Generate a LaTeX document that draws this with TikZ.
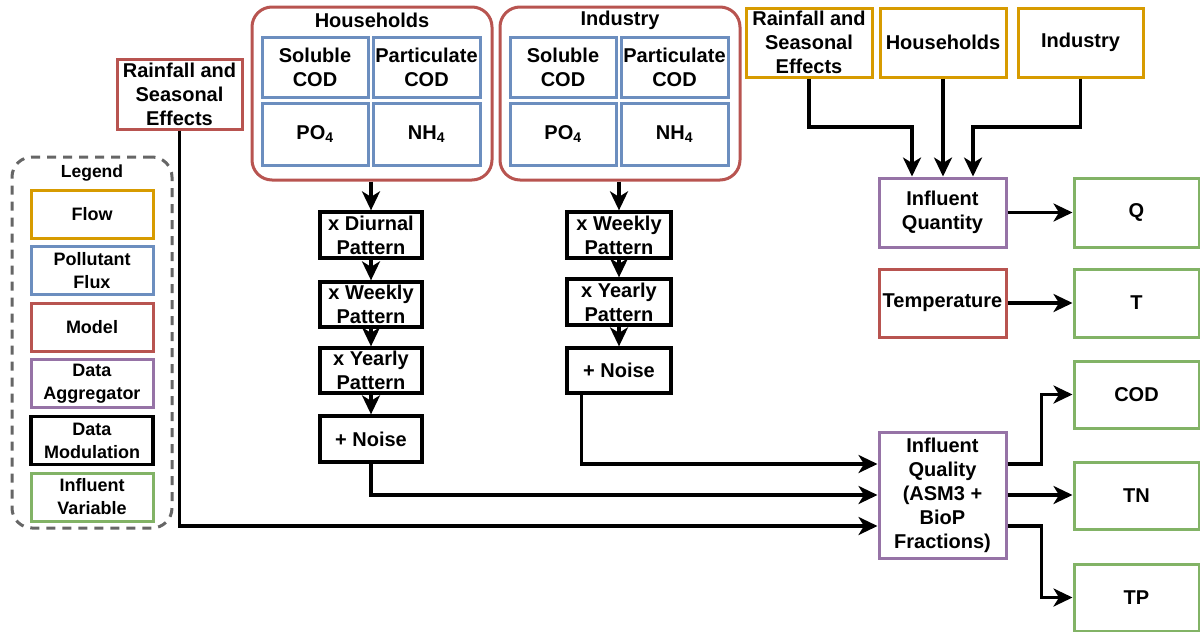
\documentclass[tikz,border=0pt]{standalone}
\usepackage{fontspec}
\setmainfont{Liberation Sans}
\usetikzlibrary{arrows.meta,calc}
\definecolor{cflow}{HTML}{D79B00}
\definecolor{cflux}{HTML}{6C8EBF}
\definecolor{cmodel}{HTML}{B85450}
\definecolor{cagg}{HTML}{9673A6}
\definecolor{cvar}{HTML}{82B366}
\definecolor{clegend}{HTML}{666666}
\begin{document}
\begin{tikzpicture}[x=1pt,y=-1pt,
  txt/.style={font=\fontsize{20}{24}\selectfont\bfseries, align=center, inner sep=0pt},
  box/.style={txt, draw=#1, line width=3pt, fill=white, rectangle},
  flowbox/.style={box=cflow},
  fluxbox/.style={box=cflux, minimum width=106, minimum height=60},
  modelbox/.style={box=cmodel},
  aggbox/.style={box=cagg},
  modbox/.style={box=black, line width=3.3pt},
  varbox/.style={box=cvar, minimum width=125},
  legbox/.style={minimum width=122, minimum height=48},
  legtext/.style={font=\fontsize{18}{23}\selectfont\bfseries},
  arr/.style={line width=3.2pt, -{Stealth[length=19pt,width=18pt,inset=5.5pt]}}
]
\useasboundingbox (0,0) rectangle (1200,632);

% ---- household and industry models with their pollutant fluxes ----
\node[modelbox, rounded corners=20pt, minimum width=240, minimum height=173] (hh) at (372,93.5) {};
\node[txt] (hhtitle) at (372,20) {Households};
\node[fluxbox] (hsc) at (315,67) {Soluble\\COD};
\node[fluxbox, minimum width=107] (hpc) at (426.5,67) {Particulate\\COD};
\node[fluxbox, minimum height=62] (hpo) at (315,134) {PO\textsubscript{4}};
\node[fluxbox, minimum width=107, minimum height=62] (hnh) at (426.5,134) {NH\textsubscript{4}};

\node[modelbox, rounded corners=20pt, minimum width=240, minimum height=173] (ind) at (620,93.5) {};
\node[txt] (indtitle) at (620,20) {Industry};
\node[fluxbox] (isc) at (563,67) {Soluble\\COD};
\node[fluxbox, minimum width=107] (ipc) at (674.5,67) {Particulate\\COD};
\node[fluxbox, minimum height=62] (ipo) at (563,134) {PO\textsubscript{4}};
\node[fluxbox, minimum width=107, minimum height=62] (inh) at (674.5,134) {NH\textsubscript{4}};

% ---- modulation chains ----
\node[modbox, minimum width=102, minimum height=46] (hdiu) at (371,235) {x Diurnal\\Pattern};
\node[modbox, minimum width=102, minimum height=45] (hweek) at (371,304.5) {x Weekly\\Pattern};
\node[modbox, minimum width=102, minimum height=45] (hyear) at (371,370.5) {x Yearly\\Pattern};
\node[modbox, minimum width=102, minimum height=46] (hnoise) at (371,439) {+ Noise};

\node[modbox, minimum width=104, minimum height=46] (iweek) at (619,235) {x Weekly\\Pattern};
\node[modbox, minimum width=104, minimum height=46] (iyear) at (619,302) {x Yearly\\Pattern};
\node[modbox, minimum width=104, minimum height=45] (inoise) at (619,370.5) {+ Noise};

% ---- rainfall model (left) ----
\node[modelbox, minimum width=125, minimum height=70] (rainL) at (179.5,94) {Rainfall and\\Seasonal\\Effects};

% ---- legend ----
\node[draw=clegend, dash pattern=on 9pt off 7pt, line width=3pt, rounded corners=20pt,
      minimum width=160, minimum height=371] (legend) at (92,342.5) {};
\node[txt, font=\fontsize{17.5}{21}\selectfont\bfseries] (legtitle) at (92,173) {Legend};
\node[flowbox, legbox, legtext] (lflow) at (92,214) {Flow};
\node[box=cflux, legbox, legtext] (lflux) at (92,270.5) {Pollutant\\Flux};
\node[modelbox, legbox, legtext] (lmodel) at (92,327.5) {Model};
\node[aggbox, legbox, legtext] (lagg) at (92,383.5) {Data\\Aggregator};
\node[modbox, legbox, legtext] (lmod) at (92,440.5) {Data\\Modulation};
\node[box=cvar, legbox, legtext] (lvar) at (92,497) {Influent\\Variable};

% ---- flow sources ----
\node[flowbox, minimum width=126, minimum height=69] (rainR) at (809,42.5) {Rainfall and\\Seasonal\\Effects};
\node[flowbox, minimum width=126, minimum height=69] (hhF) at (943,42.5) {Households};
\node[flowbox, minimum width=125, minimum height=69] (indF) at (1080.5,42.5) {Industry};

% ---- aggregators and temperature ----
\node[aggbox, minimum width=127, minimum height=69] (iqn) at (942.5,212.5) {Influent\\Quantity};
\node[modelbox, minimum width=127, minimum height=68] (temp) at (942.5,303) {Temperature};
\node[aggbox, minimum width=127, minimum height=126] (iql) at (942.5,495) {Influent\\Quality\\(ASM3 +\\BioP\\Fractions)};

% ---- influent variables ----
\node[varbox, minimum height=69] (q) at (1136.5,212.5) {Q};
\node[varbox, minimum height=68] (t) at (1136.5,303) {T};
\node[varbox, minimum height=67] (cod) at (1136.5,394.5) {COD};
\node[varbox, minimum height=67] (tn) at (1136.5,495.5) {TN};
\node[varbox, minimum height=67] (tp) at (1136.5,597.5) {TP};

% ---- connectors ----
\coordinate (bend) at (0,127);
\draw[arr] (hh.south -| hdiu.north) -- (hdiu.north);
\draw[arr] (hdiu.south) -- (hweek.north);
\draw[arr] (hweek.south) -- (hyear.north);
\draw[arr] (hyear.south) -- (hnoise.north);
\draw[arr] (ind.south -| iweek.north) -- (iweek.north);
\draw[arr] (iweek.south) -- (iyear.north);
\draw[arr] (iyear.south) -- (inoise.north);

\draw[arr] (hnoise.south) |- (iql.west);
\draw[arr] ([xshift=16pt]inoise.south west) |- ([yshift=31pt]iql.west);
\draw[arr] (rainL.south) |- ([yshift=-31pt]iql.west);

\draw[arr] (rainR.south) |- ([xshift=-30.5pt]iqn.north |- bend) -- ([xshift=-30.5pt]iqn.north);
\draw[arr] (hhF.south) -- (hhF.south |- iqn.north);
\draw[arr] (indF.south) |- ([xshift=30.5pt]iqn.north |- bend) -- ([xshift=30.5pt]iqn.north);

\draw[arr] (iqn.east) -- (q.west);
\draw[arr] (temp.east) -- (t.west);
\draw[arr] ([yshift=31pt]iql.east) -- ++(34,0) |- (cod.west);
\draw[arr] (iql.east) -- (iql.east -| tn.west);
\draw[arr] ([yshift=-31pt]iql.east) -- ++(34,0) |- (tp.west);
\end{tikzpicture}
\end{document}
